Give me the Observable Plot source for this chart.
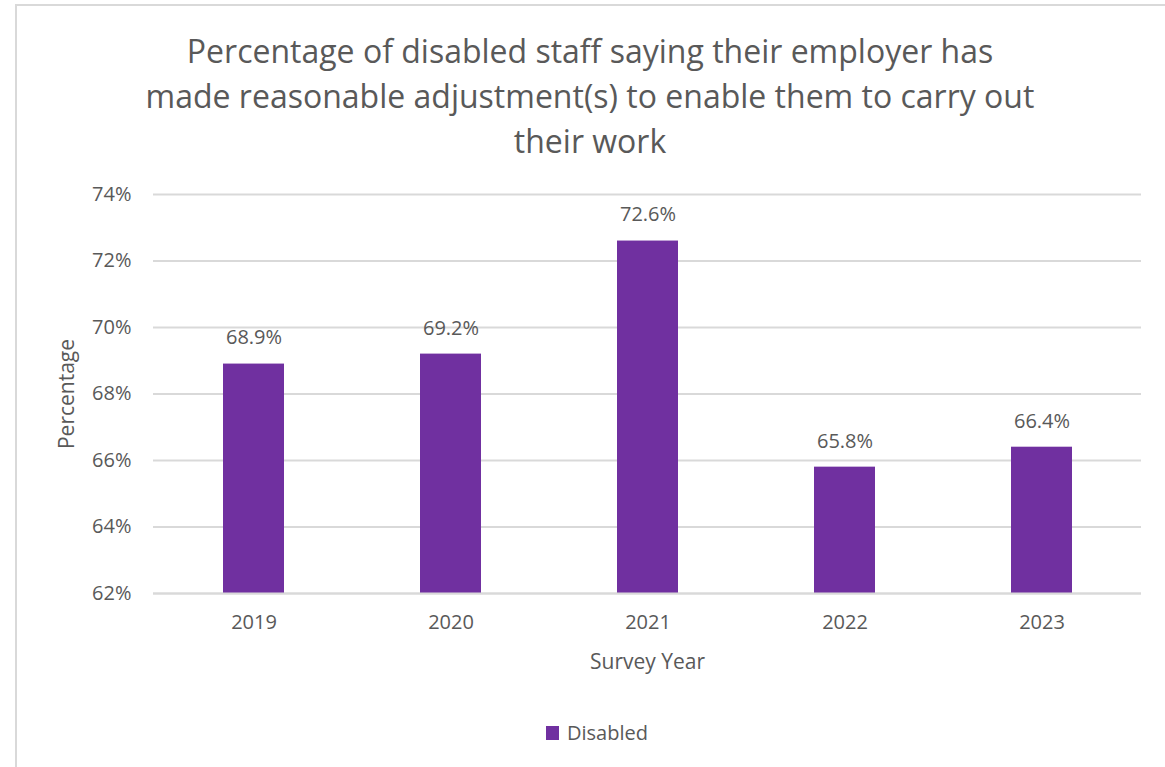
<!DOCTYPE html>
<html>
<head>
<meta charset="utf-8">
<script src="https://cdn.jsdelivr.net/npm/d3@7"></script>
<script src="https://cdn.jsdelivr.net/npm/@observablehq/plot@0.6"></script>
<style>
  html, body { margin: 0; padding: 0; background: #fff; overflow: hidden; }
  #wrap { position: relative; width: 1165px; height: 767px; font-family: "Open Sans", sans-serif; color: #595959; }
  #frame { position: absolute; left: 15px; top: 4px; width: 1170px; height: 790px; border: 2px solid #d9d9d9; box-sizing: border-box; }
  #title { position: absolute; left: 30px; width: 1120px; top: 28px; text-align: center; font-size: 32px; line-height: 45px; }
  #chart { position: absolute; left: 0; top: 170px; }
  #legend { position: absolute; top: 719px; left: 546px; font-size: 20px; line-height: 28px; display: flex; align-items: center; }
  #legend .sw { width: 13px; height: 14px; background: #7030A0; margin-right: 8px; }
</style>
</head>
<body>
<div id="wrap">
  <div id="frame"></div>
  <div id="title">Percentage of disabled staff saying their employer has<br>made reasonable adjustment(s) to enable them to carry out<br>their work</div>
  <div id="chart"></div>
  <div id="legend"><div class="sw"></div><span>Disabled</span></div>
</div>
<script>
const years = ["2019", "2020", "2021", "2022", "2023"];
const values = [68.9, 69.2, 72.6, 65.8, 66.4];
const yTicks = [62, 64, 66, 68, 70, 72, 74];

const data = years.map((y, i) => ({year: y, value: values[i]}));
const purple = "#7030A0";

const chart = Plot.plot({
  width: 1165,
  height: 520,
  marginTop: 24,
  marginBottom: 97,
  marginLeft: 153,
  marginRight: 24,
  style: {fontFamily: "'Open Sans', sans-serif", fontSize: "20px", color: "#595959", background: "transparent"},
  x: {domain: years, padding: 0, label: null},
  y: {domain: [62, 74], label: null},
  marks: [
    Plot.gridY(yTicks, {stroke: "#d9d9d9", strokeOpacity: 1, strokeWidth: 2}),
    Plot.barY(data, {x: "year", y1: 62, y2: "value", fill: purple, insetLeft: 68, insetRight: 68}),
    Plot.ruleY([62], {stroke: "#d9d9d9", strokeWidth: 2}),
    Plot.axisY(yTicks, {tickSize: 0, tickPadding: 22, tickFormat: d => d + "%", fontSize: 20, fill: "#595959", label: null}),
    Plot.axisX({tickSize: 0, tickPadding: 21, fontSize: 20, fill: "#595959", label: null}),
    Plot.text(data, {x: "year", y: "value", text: d => d.value.toFixed(1) + "%", dy: -26, fontSize: 20, fill: "#595959"}),
    Plot.text(["Survey Year"], {frameAnchor: "bottom", dy: 75, fontSize: 21, fill: "#595959"}),
    Plot.text(["Percentage"], {frameAnchor: "left", dx: -86, rotate: -90, textAnchor: "middle", fontSize: 21, fill: "#595959"})
  ]
});
document.getElementById("chart").appendChild(chart);
</script>
</body>
</html>
